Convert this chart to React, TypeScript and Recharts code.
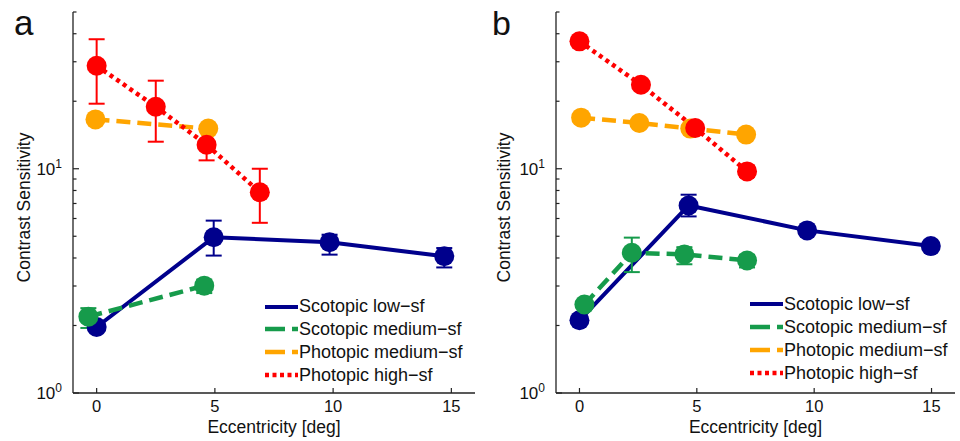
import React from 'react';
import { ComposedChart, Line, XAxis, YAxis, ErrorBar, Legend } from 'recharts';

const FONT = '"Liberation Sans", Arial, Helvetica, sans-serif';

// ---------- data ----------
const seriesNames = ['Scotopic low−sf', 'Scotopic medium−sf', 'Photopic medium−sf', 'Photopic high−sf'];
const xTicks = [0, 5, 10, 15];
const yTicks = [1, 2, 3, 4, 5, 6, 7, 8, 9, 10, 20, 30, 40, 50];

// Panel a
const aBlueX = [0, 4.95, 9.85, 14.7];
const aBlueY = [1.97, 4.95, 4.7, 4.07];
const aBlueLo = [null, 4.1, 4.14, 3.63];
const aBlueHi = [null, 5.87, 5.08, 4.43];

const aGreenX = [-0.35, 4.55];
const aGreenY = [2.19, 3.01];
const aGreenLo = [1.95, 2.79];
const aGreenHi = [2.39, 3.2];

const aOrangeX = [-0.05, 4.72];
const aOrangeY = [16.6, 15.1];
const aOrangeLo = [null, null];
const aOrangeHi = [null, null];

const aRedX = [0, 2.5, 4.65, 6.9];
const aRedY = [28.8, 18.9, 12.8, 7.86];
const aRedLo = [19.5, 13.2, 10.9, 5.74];
const aRedHi = [37.8, 24.7, 15.0, 10.0];

// Panel b
const bBlueX = [0, 4.65, 9.7, 14.97];
const bBlueY = [2.11, 6.86, 5.31, 4.52];
const bBlueLo = [null, 6.13, null, null];
const bBlueHi = [null, 7.66, null, null];

const bGreenX = [0.21, 2.23, 4.47, 7.14];
const bGreenY = [2.48, 4.22, 4.15, 3.9];
const bGreenLo = [null, 3.46, 3.75, 3.63];
const bGreenHi = [null, 4.93, 4.47, 4.13];

const bOrangeX = [0.07, 2.55, 4.72, 7.1];
const bOrangeY = [16.9, 16.0, 15.1, 14.2];
const bOrangeLo = [null, null, null, null];
const bOrangeHi = [null, null, null, null];

const bRedX = [0, 2.62, 4.93, 7.14];
const bRedY = [37.0, 23.7, 15.2, 9.73];
const bRedLo = [null, null, null, 9.2];
const bRedHi = [null, null, null, 10.3];

// ---------- styles ----------
const seriesStyles = [
  { color: '#00008c', width: 4, dash: undefined as string | undefined, legendDash: undefined as string | undefined },
  { color: '#169b4b', width: 4.5, dash: '14 7', legendDash: '20 7' },
  { color: '#ffa500', width: 4.5, dash: '14 7', legendDash: '20 7' },
  { color: '#ff0000', width: 4.5, dash: '4 4', legendDash: '4 3.5' },
];

type Row = { x: number; y: number; err: [number, number] | null };
const build = (xs: number[], ys: number[], lo: (number | null)[], hi: (number | null)[]): Row[] =>
  xs.map((x, i) => ({
    x,
    y: ys[i],
    err: lo[i] == null || hi[i] == null ? null : [ys[i] - (lo[i] as number), (hi[i] as number) - ys[i]],
  }));

const panelA = [
  build(aBlueX, aBlueY, aBlueLo, aBlueHi),
  build(aGreenX, aGreenY, aGreenLo, aGreenHi),
  build(aOrangeX, aOrangeY, aOrangeLo, aOrangeHi),
  build(aRedX, aRedY, aRedLo, aRedHi),
];
const panelB = [
  build(bBlueX, bBlueY, bBlueLo, bBlueHi),
  build(bGreenX, bGreenY, bGreenLo, bGreenHi),
  build(bOrangeX, bOrangeY, bOrangeLo, bOrangeHi),
  build(bRedX, bRedY, bRedLo, bRedHi),
];

const AXIS = '#222';

const XTick = (props: any) => {
  const { x, y, payload } = props;
  return (
    <g>
      <line x1={x} x2={x} y1={y} y2={y - 5} stroke={AXIS} strokeWidth={1.2} />
      <text x={x} y={y + 19} textAnchor="middle" fontSize={16.5} fontFamily={FONT} fill="#111">
        {payload.value}
      </text>
    </g>
  );
};

const YTick = (props: any) => {
  const { x, y, payload } = props;
  const v = payload.value;
  const major = v === 1 || v === 10;
  return (
    <g>
      <line x1={x} x2={x + (major ? 6 : 3.5)} y1={y} y2={y} stroke={AXIS} strokeWidth={1.2} />
      {major && (
        <text x={x - 11} y={y + 6} textAnchor="end" fontSize={17} fontFamily={FONT} fill="#111">
          <tspan>10</tspan>
          <tspan dy={-7} fontSize={12}>{v === 1 ? '0' : '1'}</tspan>
        </text>
      )}
    </g>
  );
};

const makeLegend = (rowH: number) => () => (
  <div style={{ fontFamily: FONT, fontSize: 18, color: '#111' }}>
    {seriesNames.map((n, i) => (
      <div key={n} style={{ display: 'flex', alignItems: 'center', height: rowH, whiteSpace: 'nowrap' }}>
        <svg width={33} height={8} style={{ display: 'block', marginRight: 1 }}>
          <line
            x1={0}
            x2={33}
            y1={4}
            y2={4}
            stroke={seriesStyles[i].color}
            strokeWidth={seriesStyles[i].width}
            strokeDasharray={seriesStyles[i].legendDash}
          />
        </svg>
        <span>{n}</span>
      </div>
    ))}
  </div>
);

const Panel = ({ series, yAxisWidth, legendLeft, legendTop, rowH }: any) => (
  <ComposedChart width={480} height={441} margin={{ top: 12, right: 5, bottom: 18, left: 0 }}>
    <XAxis
      type="number"
      dataKey="x"
      domain={[-1, 16]}
      ticks={xTicks}
      interval={0}
      allowDataOverflow
      height={30}
      tickSize={0}
      tickMargin={0}
      tickLine={false}
      tick={<XTick />}
      axisLine={{ stroke: AXIS, strokeWidth: 1.3 }}
      label={(p: any) => {
        const vb = p.viewBox;
        return (
          <text x={vb.x + vb.width / 2} y={vb.y + 40} textAnchor="middle" fontSize={17.5} fontFamily={FONT} fill="#111">
            Eccentricity [deg]
          </text>
        );
      }}
    />
    <YAxis
      type="number"
      scale="log"
      domain={[1, 50]}
      ticks={yTicks}
      interval={0}
      allowDataOverflow
      width={yAxisWidth}
      tickSize={0}
      tickMargin={0}
      tickLine={false}
      tick={<YTick />}
      axisLine={{ stroke: AXIS, strokeWidth: 1.3 }}
      label={(p: any) => {
        const vb = p.viewBox;
        const cy = vb.y + vb.height / 2 + 5;
        return (
          <text
            x={30}
            y={cy}
            transform={`rotate(-90 30 ${cy})`}
            textAnchor="middle"
            fontSize={17.5}
            fontFamily={FONT}
            fill="#111"
          >
            Contrast Sensitivity
          </text>
        );
      }}
    />
    {series.map((d: Row[], i: number) => (
      <Line
        key={seriesNames[i]}
        data={d}
        dataKey="y"
        name={seriesNames[i]}
        type="linear"
        stroke={seriesStyles[i].color}
        strokeWidth={seriesStyles[i].width}
        strokeDasharray={seriesStyles[i].dash}
        dot={{ r: 10, fill: seriesStyles[i].color, stroke: 'none', strokeDasharray: undefined }}
        activeDot={false}
        isAnimationActive={false}
      >
        <ErrorBar dataKey="err" direction="y" width={8} strokeWidth={2} stroke={seriesStyles[i].color} />
      </Line>
    ))}
    <Legend
      layout="vertical"
      align="center"
      verticalAlign="middle"
      wrapperStyle={{ position: 'absolute', left: legendLeft, top: legendTop, width: 'auto', height: 'auto' }}
      content={makeLegend(rowH)}
    />
  </ComposedChart>
);

export default function App() {
  return (
    <div style={{ position: 'absolute', left: 0, top: 0, width: 960, height: 441, background: '#fff' }}>
      <div style={{ display: 'flex' }}>
        <Panel series={panelA} yAxisWidth={73} legendLeft={265} legendTop={295.3} rowH={22.8} />
        <Panel series={panelB} yAxisWidth={76} legendLeft={270} legendTop={292.5} rowH={23.1} />
      </div>
      <svg width={960} height={60} style={{ position: 'absolute', left: 0, top: 0, pointerEvents: 'none' }}>
        <text x={14} y={35} fontSize={35} fontFamily={FONT} fill="#111">a</text>
        <text x={492} y={35} fontSize={34} fontFamily={FONT} fill="#111">b</text>
      </svg>
    </div>
  );
}
